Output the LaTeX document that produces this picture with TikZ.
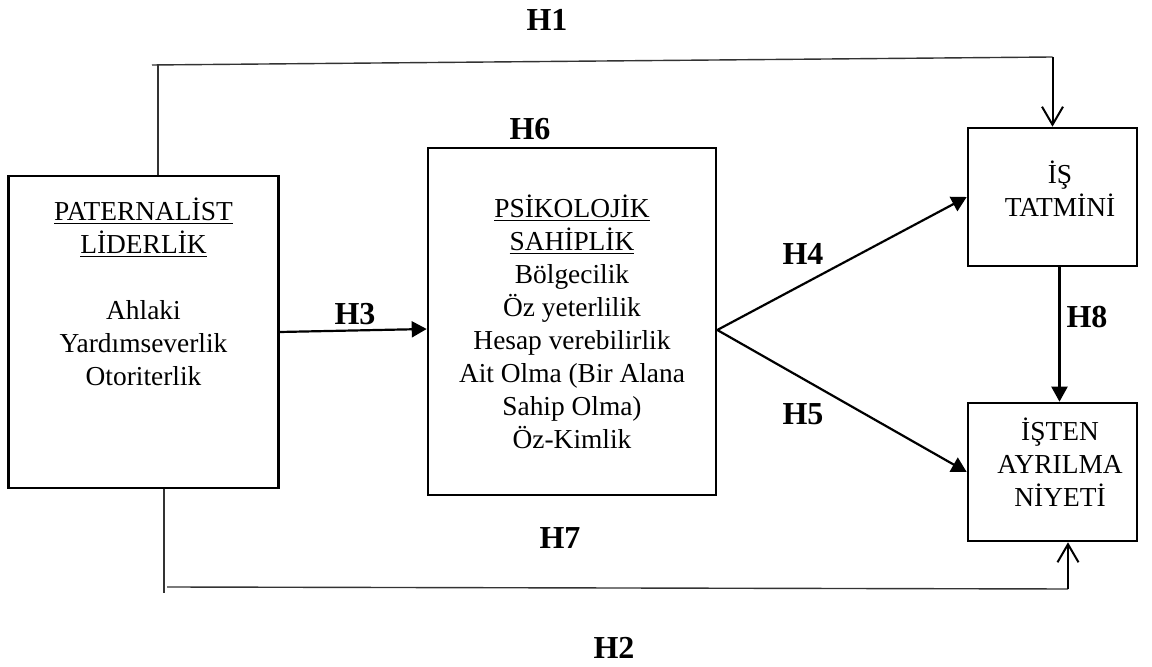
\documentclass[tikz,border=0pt]{standalone}
\usepackage{fontspec}
\setmainfont{Liberation Serif}
\usetikzlibrary{arrows.meta}

\begin{document}
\begin{tikzpicture}[x=0.5pt,y=-0.5pt,
    box/.style={draw=black,line width=1.3pt,inner sep=0pt},
    txt/.style={align=center,font=\fontsize{13.7}{16.5}\selectfont},
    hyp/.style={font=\fontsize{16}{19}\selectfont\bfseries},
    arr/.style={line width=1.1pt,-{Triangle[length=7.5pt,width=8pt]}},
    open/.style={line width=1pt,-{Straight Barb[length=9pt,width=10.5pt,line width=1pt]}},
    thin/.style={line width=0.7pt,draw=black!80}]
    \useasboundingbox (0,0) rectangle (1152,667);

    % boxes
    \node[box,minimum width=135pt,minimum height=156pt] (pl) at (143.5,332) {};
    \node[box,txt,minimum width=144pt,minimum height=173.5pt] (ps) at (572,321.5)
        {\underline{PSİKOLOJİK}\\\underline{SAHİPLİK}\\Bölgecilik\\Öz yeterlilik\\Hesap verebilirlik\\Ait Olma (Bir Alana\\Sahip Olma)\\Öz-Kimlik};
    \node[box,minimum width=84.5pt,minimum height=69pt] (it) at (1052.5,197) {};
    \node[box,minimum width=84.5pt,minimum height=69pt] (ia) at (1052.5,472) {};

    % box texts
    \node[txt] (pltext) at (143.5,292) {\underline{PATERNALİST}\\\underline{LİDERLİK}\\[16.5pt]Ahlaki\\Yardımseverlik\\Otoriterlik};
    \node[txt] (ittext) at (1060,189) {İŞ\\TATMİNİ};
    \node[txt] (iatext) at (1060,462) {İŞTEN\\AYRILMA\\NİYETİ};

    % corners of the long paths
    \coordinate (h1a) at (158,65);
    \coordinate (h1b) at (1052.5,57);
    \coordinate (h2a) at (164,593);
    \coordinate (h2b) at (1068,589);
    \coordinate (apex) at ([yshift=-4.25pt]ps.east);

    \draw[thin] (pl.north -| h1a) -- (h1a);
    \draw[thin] ([xshift=-3pt]h1a) -- (h1b);
    \draw[open] (h1b) -- (it.north);

    \draw[thin] (pl.south -| h2a) -- (h2a);
    \draw[thin] ([xshift=1.5pt,yshift=3pt]h2a) -- (h2b);
    \draw[open] (h2b) -- (ia.south -| h2b);

    \draw[arr] (pl.east) -- ([yshift=-3.75pt]ps.west);
    \draw[arr] (apex) -- (it.west);
    \draw[arr] (apex) -- (ia.west);
    \draw[arr] ([xshift=3.5pt]it.south) -- ([xshift=3.5pt]ia.north);

    % labels
    \node[hyp] (l1) at (547,20) {H1};
    \node[hyp] (l2) at (614,648) {H2};
    \node[hyp] (l3) at (355,314) {H3};
    \node[hyp] (l4) at (803,254) {H4};
    \node[hyp] (l5) at (803,414) {H5};
    \node[hyp] (l6) at (530,129) {H6};
    \node[hyp] (l7) at (560,538) {H7};
    \node[hyp] (l8) at (1087,317) {H8};
\end{tikzpicture}
\end{document}
